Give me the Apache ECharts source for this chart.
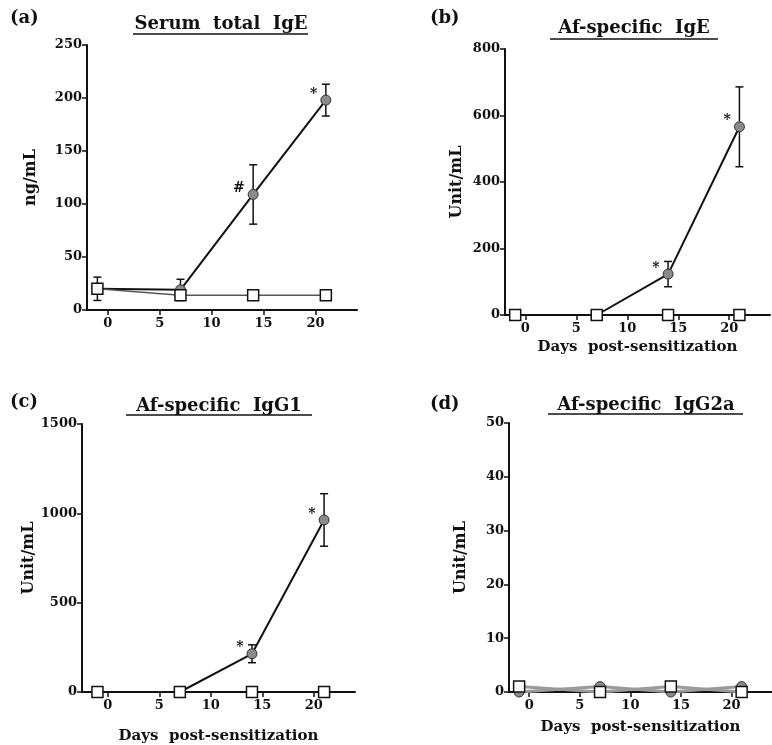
<!DOCTYPE html>
<html>
<head>
<meta charset="utf-8">
<script src="https://cdn.jsdelivr.net/npm/echarts@6/dist/echarts.min.js"></script>
<style>
html, body { margin: 0; padding: 0; background: #fff; }
#main { width: 772px; height: 745px; }
</style>
</head>
<body>
<div id="main"></div>
<script>
// 采样日 / 刻度
const days = [-1, 7, 14, 21]
const dayTicks = [0, 5, 10, 15, 20]

// (a) Serum total IgE (ng/mL)
const totalIgeAf = [20, 19, 109, 198]
const totalIgeAfErr = [11, 10, 28, 15]
const totalIgeCtrl = [20, 14, 14, 14]
const totalIgeMarks = ['', '', '#', '*']

// (b) Af-specific IgE (Unit/mL)
const afIgeAf = [0, 0, 123, 566]
const afIgeAfErr = [0, 0, 38, 120]
const afIgeCtrl = [0, 0, 0, 0]
const afIgeMarks = ['', '', '*', '*']

// (c) Af-specific IgG1 (Unit/mL)
const afIgg1Af = [0, 0, 214, 963]
const afIgg1AfErr = [0, 0, 50, 147]
const afIgg1Ctrl = [0, 0, 0, 0]
const afIgg1Marks = ['', '', '*', '*']

// (d) Af-specific IgG2a (Unit/mL)
const afIgg2aAf = [0, 1, 0, 1]
const afIgg2aAfErr = [0, 0, 0, 0]
const afIgg2aCtrl = [1, 0, 1, 0]
const afIgg2aMarks = ['', '', '', '']

const serif = 'DejaVu Serif'
const ink = '#111'

// 面板配置
const panels = [
    { grid: { left: 87, top: 45, width: 270, height: 265 }, xMin: -2, yMax: 250, yStep: 50, yName: 'ng/mL', yGap: 48, xName: '', xGap: 28,
      af: totalIgeAf, err: totalIgeAfErr, ctrl: totalIgeCtrl, marks: totalIgeMarks, ctrlColor: '#555', afLine: ink },
    { grid: { left: 505, top: 49, width: 265, height: 266 }, xMin: -2, yMax: 800, yStep: 200, yName: 'Unit/mL', yGap: 40, xName: 'Days  post-sensitization', xGap: 25,
      af: afIgeAf, err: afIgeAfErr, ctrl: afIgeCtrl, marks: afIgeMarks, ctrlColor: ink, afLine: ink },
    { grid: { left: 82, top: 424, width: 273, height: 268 }, xMin: -2.5, yMax: 1500, yStep: 500, yName: 'Unit/mL', yGap: 45, xName: 'Days  post-sensitization', xGap: 37,
      af: afIgg1Af, err: afIgg1AfErr, ctrl: afIgg1Ctrl, marks: afIgg1Marks, ctrlColor: ink, afLine: ink },
    { grid: { left: 509, top: 423, width: 269, height: 269 }, xMin: -2, yMax: 50, yStep: 10, yName: 'Unit/mL', yGap: 40, xName: 'Days  post-sensitization', xGap: 28,
      af: afIgg2aAf, err: afIgg2aAfErr, ctrl: afIgg2aCtrl, marks: afIgg2aMarks, ctrlColor: '#9a9a9a', afLine: '#9a9a9a', thick: true }
]

// 误差线
function renderErr(params, api) {
    const e = api.value(2)
    if (!e) return
    const x = api.value(0), y = api.value(1)
    const top = api.coord([x, y + e])
    const bot = api.coord([x, y - e])
    const w = 4
    const style = { stroke: ink, lineWidth: 1.5 }
    return {
        type: 'group',
        children: [
            { type: 'line', shape: { x1: top[0], y1: top[1], x2: bot[0], y2: bot[1] }, style },
            { type: 'line', shape: { x1: top[0] - w, y1: top[1], x2: top[0] + w, y2: top[1] }, style },
            { type: 'line', shape: { x1: bot[0] - w, y1: bot[1], x2: bot[0] + w, y2: bot[1] }, style }
        ]
    }
}

const axisFont = { fontFamily: serif, fontWeight: 'bold', fontSize: 13, color: ink }
const axisLine = { show: true, onZero: false, lineStyle: { color: ink, width: 2 } }

const grids = [], xAxes = [], yAxes = [], series = []
panels.forEach((p, i) => {
    grids.push(p.grid)
    xAxes.push({
        type: 'value', gridIndex: i, min: p.xMin, max: 24,
        axisLine: axisLine,
        axisTick: { show: true, length: 5, lineStyle: { color: ink, width: 1.5 }, customValues: dayTicks },
        axisLabel: Object.assign({ margin: 7, customValues: dayTicks }, axisFont),
        splitLine: { show: false },
        name: p.xName, nameLocation: 'middle', nameGap: p.xGap,
        nameTextStyle: { fontFamily: serif, fontWeight: 'bold', fontSize: 15, color: ink }
    })
    yAxes.push({
        type: 'value', gridIndex: i, min: 0, max: p.yMax, interval: p.yStep,
        axisLine: axisLine,
        axisTick: { show: true, length: 5, lineStyle: { color: ink, width: 1.5 } },
        axisLabel: Object.assign({ margin: 5, formatter: v => String(v) }, axisFont),
        splitLine: { show: false },
        name: p.yName, nameLocation: 'middle', nameGap: p.yGap, nameRotate: 90,
        nameTextStyle: { fontFamily: serif, fontWeight: 'bold', fontSize: 16, color: ink }
    })
    const lw = p.thick ? 3 : 2
    series.push({
        type: 'custom', xAxisIndex: i, yAxisIndex: i, z: 2,
        renderItem: renderErr,
        encode: { x: 0, y: 1 },
        data: days.map((d, k) => [d, p.af[k], p.err[k]])
    })
    series.push({
        type: 'line', xAxisIndex: i, yAxisIndex: i, z: 3,
        data: days.map((d, k) => [d, p.af[k]]),
        symbol: 'circle', symbolSize: 10,
        itemStyle: { color: '#8a8a8a', borderColor: '#333', borderWidth: 1 },
        lineStyle: { color: p.afLine, width: lw },
        label: {
            show: true, position: 'left', distance: 3, offset: [0, -6],
            formatter: q => p.marks[q.dataIndex],
            fontFamily: serif, fontWeight: 'bold', fontSize: 14, color: ink
        },
        animation: false
    })
    series.push({
        type: 'line', xAxisIndex: i, yAxisIndex: i, z: 4,
        data: days.map((d, k) => [d, p.ctrl[k]]),
        symbol: 'rect', symbolSize: 11,
        itemStyle: { color: '#fff', borderColor: ink, borderWidth: 1.5 },
        lineStyle: { color: p.ctrlColor, width: p.thick ? 3 : 1.5 },
        animation: false
    })
})

// 标题和下划线
const heads = [
    { tag: '(a)', tx: 10, ty: 21, title: 'Serum  total  IgE', cx: 221, cy: 24, u: [133, 308, 34] },
    { tag: '(b)', tx: 430, ty: 21, title: 'Af-specific  IgE', cx: 634, cy: 28, u: [550, 718, 39] },
    { tag: '(c)', tx: 10, ty: 405, title: 'Af-specific  IgG1', cx: 219, cy: 406, u: [126, 312, 415] },
    { tag: '(d)', tx: 430, ty: 407, title: 'Af-specific  IgG2a', cx: 646, cy: 405, u: [548, 743, 414] }
]
const graphic = []
heads.forEach(h => {
    graphic.push({ type: 'text', left: h.tx, top: h.ty - 12,
        style: { text: h.tag, font: 'bold 18px "DejaVu Serif"', fill: ink } })
    graphic.push({ type: 'text', x: h.cx, y: h.cy,
        style: { text: h.title, font: 'bold 18px "DejaVu Serif"', fill: ink, align: 'center', verticalAlign: 'middle' } })
    graphic.push({ type: 'line', shape: { x1: h.u[0], y1: h.u[2], x2: h.u[1], y2: h.u[2] },
        style: { stroke: ink, lineWidth: 1.5 } })
})

const chart = echarts.init(document.getElementById('main'))
chart.setOption({
    backgroundColor: '#fff',
    animation: false,
    grid: grids,
    xAxis: xAxes,
    yAxis: yAxes,
    series: series,
    graphic: graphic
})
</script>
</body>
</html>
